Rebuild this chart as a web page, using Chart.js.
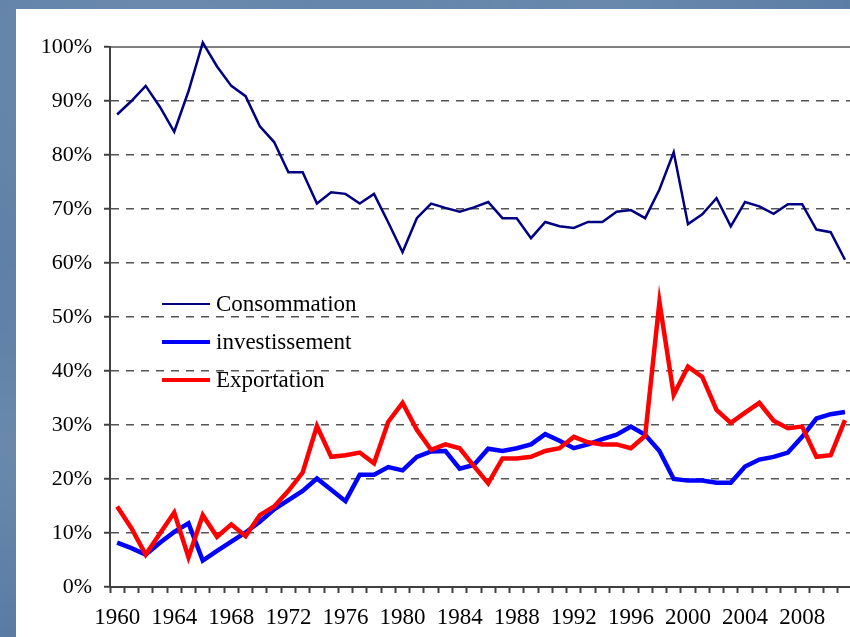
<!DOCTYPE html>
<html>
<head>
<meta charset="utf-8">
<script src="https://cdn.jsdelivr.net/npm/chart.js@4/dist/chart.umd.min.js"></script>
<style>
  html, body { margin: 0; padding: 0; width: 850px; height: 637px; overflow: hidden; }
  body {
    background-color: #5a7ca4;
    background-image:
      radial-gradient(ellipse at 20% 10%, rgba(255,255,255,0.12), transparent 40%),
      radial-gradient(ellipse at 70% 5%, rgba(255,255,255,0.10), transparent 35%),
      radial-gradient(ellipse at 5% 70%, rgba(255,255,255,0.10), transparent 30%);
    position: relative;
  }
  #panel { position: absolute; left: 16px; top: 9px; width: 850px; height: 640px; background: #fff; }
  #wrap { position: absolute; left: 0; top: 0; width: 840px; height: 628px; }
</style>
</head>
<body>
<div id="panel"><div id="wrap"><canvas id="c"></canvas></div></div>
<script>
const years = ['1960','1961','1962','1963','1964','1965','1966','1967','1968','1969',
  '1970','1971','1972','1973','1974','1975','1976','1977','1978','1979',
  '1980','1981','1982','1983','1984','1985','1986','1987','1988','1989',
  '1990','1991','1992','1993','1994','1995','1996','1997','1998','1999',
  '2000','2001','2002','2003','2004','2005','2006','2007','2008','2009',
  '2010','2011'];
const yearTicks = ['1960','1964','1968','1972','1976','1980','1984','1988','1992','1996','2000','2004','2008'];

const consommation = [87.5, 90.0, 92.8, 88.9, 84.3, 91.8, 100.8, 96.4, 92.8, 90.9,
  85.3, 82.4, 76.8, 76.8, 71.0, 73.1, 72.8, 71.0, 72.8, 67.5,
  62.0, 68.3, 71.0, 70.2, 69.5, 70.3, 71.3, 68.3, 68.3, 64.6,
  67.6, 66.8, 66.5, 67.6, 67.6, 69.5, 69.8, 68.3, 73.6, 80.5,
  67.2, 69.0, 72.0, 66.8, 71.3, 70.5, 69.1, 70.9, 70.9, 66.2,
  65.7, 60.6];
const investissement = [8.2, 7.2, 6.0, 8.2, 10.2, 11.8, 4.9, 6.7, 8.4, 10.1,
  12.1, 14.4, 16.1, 17.8, 20.1, 18.0, 15.9, 20.8, 20.8, 22.2,
  21.6, 24.1, 25.1, 25.2, 21.9, 22.6, 25.6, 25.2, 25.7, 26.4,
  28.3, 27.1, 25.7, 26.4, 27.4, 28.2, 29.7, 28.2, 25.2, 20.0,
  19.7, 19.7, 19.3, 19.3, 22.3, 23.6, 24.1, 24.9, 27.8, 31.2,
  32.0, 32.4];
const exportation = [14.9, 10.9, 6.0, 9.9, 13.8, 5.5, 13.3, 9.3, 11.6, 9.4,
  13.3, 14.9, 17.8, 21.2, 29.8, 24.1, 24.4, 24.9, 22.9, 30.6,
  34.1, 29.1, 25.4, 26.4, 25.7, 22.4, 19.2, 23.8, 23.8, 24.1,
  25.2, 25.7, 27.8, 26.8, 26.4, 26.4, 25.7, 28.0, 52.8, 35.6,
  40.8, 38.9, 32.8, 30.4, 32.3, 34.1, 30.8, 29.4, 29.7, 24.1,
  24.4, 30.9];

const serif = '"Liberation Serif", "Times New Roman", serif';

// legend drawn inside the plot, like the original
const insideLegend = {
  id: 'insideLegend',
  afterDraw(chart) {
    const ctx = chart.ctx;
    const x0 = 146, x1 = 194, tx = 200;
    const rows = [295, 333, 371];
    ctx.save();
    ctx.font = '23px ' + serif;
    ctx.fillStyle = '#000';
    ctx.textBaseline = 'alphabetic';
    chart.data.datasets.forEach((ds, i) => {
      const y = rows[i];
      ctx.strokeStyle = ds.borderColor;
      ctx.lineWidth = ds.legendWidth;
      ctx.beginPath();
      ctx.moveTo(x0, y);
      ctx.lineTo(x1, y);
      ctx.stroke();
      ctx.fillText(ds.label, tx, y + 7);
    });
    ctx.restore();
  }
};

new Chart(document.getElementById('c'), {
  type: 'line',
  data: {
    labels: years,
    datasets: [
      { label: 'Consommation', data: consommation, borderColor: '#000080', borderWidth: 2.5, legendWidth: 2, order: 0, clip: false },
      { label: 'investissement', data: investissement, borderColor: '#0000ff', borderWidth: 4.5, legendWidth: 4, order: 2 },
      { label: 'Exportation', data: exportation, borderColor: '#ff0000', borderWidth: 4.5, legendWidth: 4, order: 1 }
    ]
  },
  options: {
    responsive: true,
    maintainAspectRatio: false,
    animation: false,
    elements: { point: { radius: 0, hoverRadius: 0 }, line: { tension: 0, fill: false } },
    layout: { padding: { left: 0, right: 2.4, top: 38, bottom: 0 } },
    plugins: { legend: { display: false }, tooltip: { enabled: false } },
    scales: {
      x: {
        offset: true,
        grid: { offset: true, drawOnChartArea: false, drawTicks: true, tickLength: 6, tickColor: '#404040', tickWidth: 2 },
        border: { color: '#404040', width: 2 },
        ticks: {
          autoSkip: false, maxRotation: 0, padding: 11, color: '#000',
          font: { family: serif, size: 23 },
          callback: function (v) { const y = this.getLabelForValue(v); return yearTicks.includes(y) ? y : ''; }
        },
        afterFit: s => { s.height = 50; }
      },
      xTop: {
        position: 'top',
        type: 'category',
        labels: years,
        grid: { display: false },
        ticks: { display: false },
        border: { color: '#808080', width: 2 },
        afterFit: s => { s.height = 0; }
      },
      y: {
        min: 0, max: 100,
        ticks: { stepSize: 10, padding: 12, color: '#000', font: { family: serif, size: 22 }, callback: v => v + '%' },
        grid: {
          color: ctx => ctx.tick && ctx.tick.value === 100 ? 'rgba(0,0,0,0)' : '#555',
          lineWidth: 1.5, tickLength: 6, tickColor: '#404040', tickWidth: 2, borderDash: [8, 7]
        },
        border: { color: '#404040', width: 2, dash: [8, 7] },
        afterFit: s => { s.width = 94; }
      }
    }
  },
  plugins: [insideLegend]
});
</script>
</body>
</html>
